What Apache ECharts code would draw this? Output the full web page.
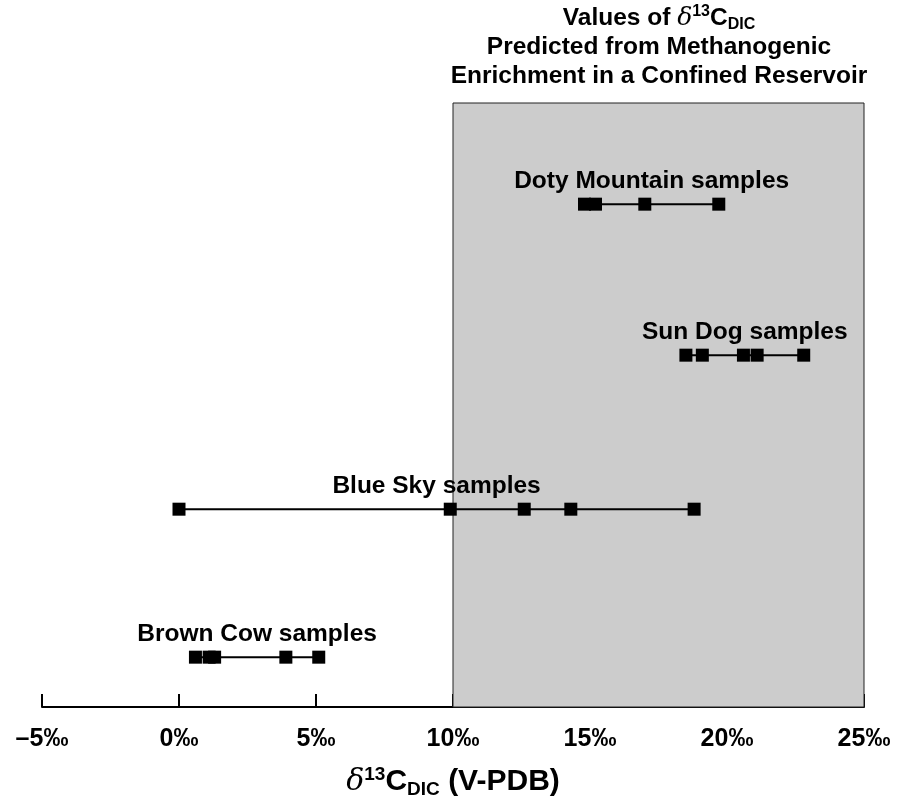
<!DOCTYPE html>
<html>
<head>
<meta charset="utf-8">
<script src="https://cdn.jsdelivr.net/npm/echarts@6/dist/echarts.min.js"></script>
<style>html,body{margin:0;padding:0;background:#fff}#main{width:904px;height:804px}</style>
</head>
<body>
<div id="main"></div>
<script>
// ---- data ----
const groupNames = ['Doty Mountain samples', 'Sun Dog samples', 'Blue Sky samples', 'Brown Cow samples'];
const groupLevels = [3.33, 2.33, 1.31, 0.33];
const dotyMountain = [14.8, 15.2, 17.0, 19.7];
const sunDog = [18.5, 19.1, 20.6, 21.1, 22.8];
const blueSky = [0.0, 9.9, 12.6, 14.3, 18.8];
const brownCow = [0.6, 1.1, 1.3, 3.9, 5.1];
const predictedRange = [10, 25];
const xTicks = [-5, 0, 5, 10, 15, 20, 25];

const groupValues = [dotyMountain, sunDog, blueSky, brownCow];
const FONT = '"Liberation Sans", Arial, Helvetica, sans-serif';
const SERIF = '"DejaVu Serif", "Liberation Serif", serif';

const chart = echarts.init(document.getElementById('main'), null, {renderer: 'canvas'});

const series = [];
groupValues.forEach((vals, i) => {
  const y = groupLevels[i];
  series.push({
    type: 'line',
    name: groupNames[i],
    data: vals.map(v => [v, y]),
    symbol: 'rect',
    symbolSize: 13,
    showSymbol: true,
    lineStyle: {color: '#000', width: 2},
    itemStyle: {color: '#000', opacity: 1},
    animation: false,
    z: 5,
    markArea: i === 0 ? {
      silent: true,
      itemStyle: {color: '#cccccc', borderColor: '#222', borderWidth: 1},
      data: [[{xAxis: predictedRange[0], yAxis: 0}, {xAxis: predictedRange[1], yAxis: 4}]]
    } : undefined
  });
  const mid = (Math.min(...vals) + Math.max(...vals)) / 2;
  series.push({
    type: 'scatter',
    data: [[mid, y]],
    symbolSize: 0,
    silent: true,
    animation: false,
    itemStyle: {color: '#000', opacity: 1},
    label: {
      show: true, position: 'inside', offset: [0, -23],
      formatter: groupNames[i],
      color: '#000', opacity: 1, textBorderWidth: 0, textBorderColor: 'transparent',
      fontFamily: FONT, fontWeight: 'bold', fontSize: 24.5
    },
    z: 6
  });
});

const option = {
  backgroundColor: '#fff',
  animation: false,
  title: {
    left: 659, top: 4, textAlign: 'center', padding: 0,
    text: 'Values of {d|δ}{sup|13}C{sub|DIC}\nPredicted from Methanogenic\nEnrichment in a Confined Reservoir',
    textStyle: {
      fontFamily: FONT, fontWeight: 'bold', fontSize: 24.5, color: '#000', lineHeight: 29,
      rich: {
        d: {fontFamily: SERIF, fontStyle: 'italic', fontWeight: 'normal', fontSize: 25, lineHeight: 29},
        sup: {fontFamily: FONT, fontWeight: 'bold', fontSize: 16, verticalAlign: 'top', lineHeight: 29},
        sub: {fontFamily: FONT, fontWeight: 'bold', fontSize: 16, verticalAlign: 'bottom', lineHeight: 29}
      }
    }
  },
  grid: {left: 42, right: 40, top: 103, bottom: 83, containLabel: false},
  xAxis: {
    type: 'value', min: xTicks[0], max: xTicks[xTicks.length - 1], interval: 5,
    axisLine: {show: true, onZero: false, lineStyle: {color: '#000', width: 2}},
    axisTick: {show: true, inside: true, length: 13, lineStyle: {color: '#000', width: 2}},
    splitLine: {show: false},
    axisLabel: {
      color: '#000', fontFamily: FONT, fontWeight: 'bold', fontSize: 25, margin: 20,
      formatter: v => (v < 0 ? '–' + Math.abs(v) : String(v)) + '‰'
    },
    name: '{d|δ}{sup|13}C{sub|DIC} (V-PDB)',
    nameLocation: 'middle', nameGap: 58,
    nameTextStyle: {
      color: '#000', fontFamily: FONT, fontWeight: 'bold', fontSize: 30, lineHeight: 34,
      rich: {
        d: {fontFamily: SERIF, fontStyle: 'italic', fontWeight: 'normal', fontSize: 30, lineHeight: 34, color: '#000'},
        sup: {fontFamily: FONT, fontWeight: 'bold', fontSize: 19, verticalAlign: 'top', lineHeight: 34, color: '#000'},
        sub: {fontFamily: FONT, fontWeight: 'bold', fontSize: 19, verticalAlign: 'bottom', lineHeight: 34, color: '#000'}
      }
    }
  },
  yAxis: {
    type: 'value', min: 0, max: 4, show: false,
    splitLine: {show: false}
  },
  series: series
};
chart.setOption(option);
</script>
</body>
</html>
